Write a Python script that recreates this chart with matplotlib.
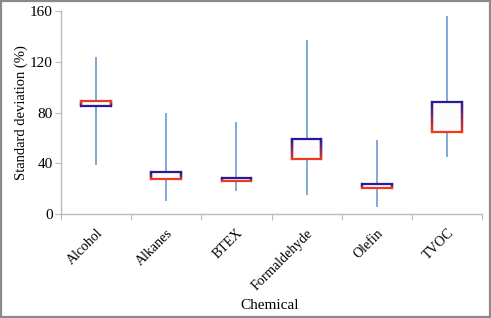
import numpy as np
import matplotlib
matplotlib.use("Agg")
import matplotlib.pyplot as plt
from matplotlib.patches import Rectangle
from matplotlib.collections import LineCollection
from matplotlib.colors import to_rgb

# data (stock-style high/low + open/close boxes)
chemicals = ["Alcohol", "Alkanes", "BTEX", "Formaldehyde", "Olefin", "TVOC"]
high = [123.5, 80, 72.5, 137.5, 58, 156]
low = [39, 10, 18.5, 15, 5.5, 45]
open_ = [89, 27.5, 26.2, 43, 20.7, 65]
close = [85.5, 33, 28.5, 59.3, 23.9, 88]

plt.rcParams["font.family"] = "serif"
plt.rcParams["font.serif"] = ["Liberation Serif"]

RED = "#f03a1e"
BLUE = "#2a1a9a"
WHISKER = "#6b9bd1"

fig = plt.figure(figsize=(4.91, 3.18), dpi=100)
ax = fig.add_axes([0.124, 0.327, 0.858, 0.638])

x = np.arange(len(chemicals))
ax.vlines(x, low, high, color=WHISKER, lw=1.2, zorder=1)

hw = 0.21
for xi, o, c in zip(x, open_, close):
    lo, hi = min(o, c), max(o, c)
    # gradient goes from open colour (red) to close colour (blue)
    top_col = BLUE if c >= o else RED
    bot_col = RED if c >= o else BLUE
    ax.add_patch(Rectangle((xi - hw, lo), 2 * hw, hi - lo,
                           facecolor="#fcfcfc", edgecolor="none", zorder=2))
    n = 20
    ys = np.linspace(lo, hi, n + 1)
    t0, t1 = np.array(to_rgb(bot_col)), np.array(to_rgb(top_col))
    segs, cols = [], []
    for side in (xi - hw, xi + hw):
        for k in range(n):
            segs.append([(side, ys[k]), (side, ys[k + 1])])
            f = (k + 0.5) / n
            cols.append(t0 * (1 - f) + t1 * f)
    ax.add_collection(LineCollection(segs, colors=cols, lw=1.6, zorder=3,
                                     capstyle="projecting"))
    ax.plot([xi - hw, xi + hw], [hi, hi], color=top_col, lw=1.6,
            solid_capstyle="projecting", zorder=4)
    ax.plot([xi - hw, xi + hw], [lo, lo], color=bot_col, lw=1.6,
            solid_capstyle="projecting", zorder=4)

ax.set_xlim(-0.5, len(chemicals) - 0.5)
ax.set_ylim(0, 160)
ax.set_yticks([0, 40, 80, 120, 160])

ax.set_xticks(np.arange(-0.5, len(chemicals)), labels=[])
ax.set_xticks(x, labels=chemicals, minor=True)
ax.tick_params(axis="x", which="minor", length=0, pad=9, labelsize=10)
ax.tick_params(axis="x", which="major", length=4, color="#bbbbbb")
ax.tick_params(axis="y", length=4, color="#bbbbbb", labelsize=11, pad=2)
for lab in ax.get_xticklabels(minor=True):
    lab.set_rotation(45)
    lab.set_ha("right")
    lab.set_rotation_mode("anchor")

for s in ("top", "right"):
    ax.spines[s].set_visible(False)
for s in ("left", "bottom"):
    ax.spines[s].set_color("#bbbbbb")
    ax.spines[s].set_linewidth(1.0)

ax.set_ylabel("Standard deviation (%)", fontsize=10.5, labelpad=1)
fig.text(0.55, 0.04, "Chemical", ha="center", va="center", fontsize=11)

fig.patches.append(Rectangle((0.002, 0.003), 0.996, 0.994, transform=fig.transFigure,
                             fill=False, edgecolor="#8a8a8a", lw=1.6))

fig.savefig("out.png", dpi=100)
